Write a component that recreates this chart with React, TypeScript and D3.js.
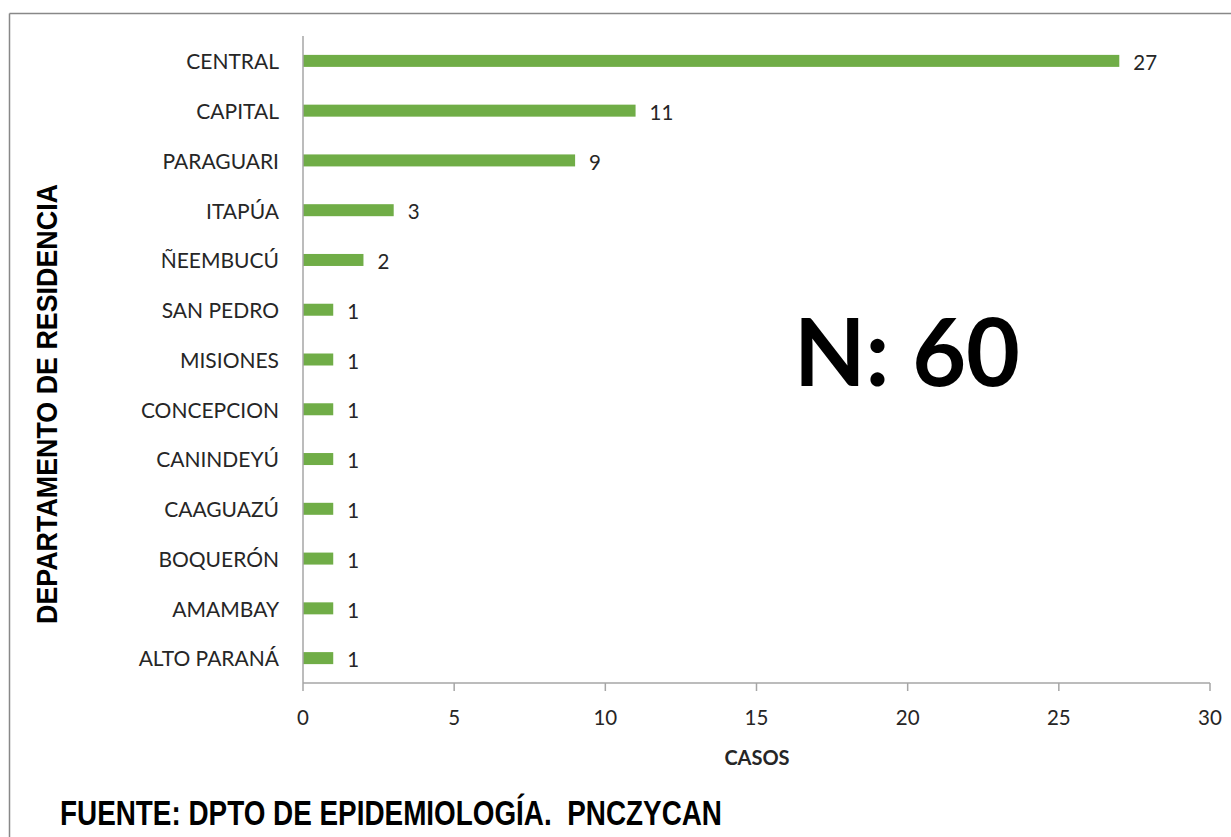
import React from "react";
import * as d3 from "d3";

const categories = ["CENTRAL","CAPITAL","PARAGUARI","ITAPÚA","ÑEEMBUCÚ","SAN PEDRO","MISIONES","CONCEPCION","CANINDEYÚ","CAAGUAZÚ","BOQUERÓN","AMAMBAY","ALTO PARANÁ"];
const values = [27,11,9,3,2,1,1,1,1,1,1,1,1];
const xTicks = [0,5,10,15,20,25,30];

const W = 1231, H = 837;
const left = 303, right = 1210, top = 36, bottom = 683;
const font = "Lato, 'Open Sans', sans-serif";
const arial = "'Liberation Sans', Arial, sans-serif";

export default function App() {
  const x = d3.scaleLinear().domain([0, 30]).range([left, right]);
  const y = d3.scaleBand().domain(categories).range([top, bottom]);
  const barH = 12;
  return (
    <svg width={W} height={H} style={{ position: "absolute", left: 0, top: 0, background: "#fff" }}>
      <rect x={0} y={0} width={W} height={H} fill="#fff" />
      <line x1={9.5} y1={13.5} x2={W} y2={13.5} stroke="#888" strokeWidth={1.5} />
      <line x1={9.5} y1={13.5} x2={9.5} y2={H} stroke="#888" strokeWidth={1.5} />
      {categories.map((c, i) => {
        const cy = (y(c) as number) + y.bandwidth() / 2;
        return (
          <g key={c}>
            <rect x={x(0)} y={cy - barH / 2} width={x(values[i]) - x(0)} height={barH} fill="#70AD47" />
            <text x={279} y={cy + 1} dy="0.35em" textAnchor="end" fontFamily={font} fontSize={21} fill="#262626">{c}</text>
            <text x={x(values[i]) + 14} y={cy + 2} dy="0.35em" textAnchor="start" fontFamily={font} fontSize={20.5} fill="#262626">{values[i]}</text>
          </g>
        );
      })}
      <line x1={left} y1={top} x2={left} y2={bottom} stroke="#a6a6a6" strokeWidth={1.5} />
      <line x1={left} y1={bottom} x2={right} y2={bottom} stroke="#a6a6a6" strokeWidth={1.5} />
      {xTicks.map(t => (
        <g key={t}>
          <line x1={x(t)} y1={bottom} x2={x(t)} y2={bottom + 8} stroke="#a6a6a6" strokeWidth={1.5} />
          <text x={x(t)} y={718} dy="0.35em" textAnchor="middle" fontFamily={font} fontSize={20.5} fill="#262626">{t}</text>
        </g>
      ))}
      <text x={757} y={758} dy="0.35em" textAnchor="middle" fontFamily={font} fontWeight="bold" fontSize={20} fill="#262626">CASOS</text>
      <text transform={`translate(47,404) rotate(-90)`} dy="0.36em" textAnchor="middle" fontFamily={arial} fontWeight="bold" fontSize={29} textLength={440} lengthAdjust="spacingAndGlyphs" fill="#000">DEPARTAMENTO DE RESIDENCIA</text>
      <text x={60} y={812} dy="0.36em" textAnchor="start" fontFamily={arial} fontWeight="bold" fontSize={35} textLength={662} lengthAdjust="spacingAndGlyphs" fill="#000">{"FUENTE: DPTO DE EPIDEMIOLOGÍA.\u00A0 PNCZYCAN"}</text>
      <text x={907} y={353} dy="0.35em" textAnchor="middle" fontFamily={font} fontWeight="bold" fontSize={93} fill="#000">N: 60</text>
    </svg>
  );
}
